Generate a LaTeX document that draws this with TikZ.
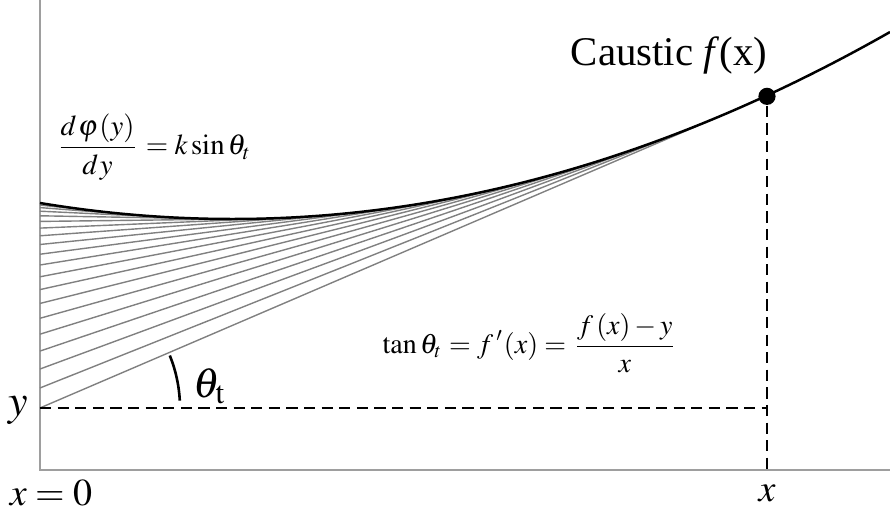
\documentclass[tikz,border=0pt]{standalone}
\usepackage{mathptmx}
\usepackage[no-math]{fontspec}
\setmainfont{Liberation Serif}
\begin{document}
\begin{tikzpicture}[x=0.25pt,y=-0.25pt,
  axisline/.style={draw=black!38, line width=0.65pt},
  rayline/.style={draw=black!50, line width=0.35pt},
  causticline/.style={draw=black, line width=0.62pt},
  guide/.style={draw=black, line width=0.72pt, dash pattern=on 2.8pt off 1.6pt},
  lbl/.style={inner sep=0pt},
  declare function={fY(\u)=267-16.64*\u+4.324*\u*\u;}
]
\useasboundingbox (0,0) rectangle (890,510);
% axes
\coordinate (O) at (40,470);
\coordinate (top) at (40,0);
\coordinate (right) at (890,470);
\draw[axisline] (top) -- (O) -- (right);
% rays tangent to the caustic
\foreach \k in {1,...,20}{
  \pgfmathsetmacro{\ut}{0.34425*\k}
  \pgfmathsetmacro{\yo}{470-(267-4.324*\ut*\ut)}
  \pgfmathsetmacro{\yt}{470-fY(\ut)}
  \pgfmathsetmacro{\xt}{40+100*\ut}
  \coordinate (ra\k) at (40,\yo);
  \coordinate (rb\k) at (\xt,\yt);
  \draw[rayline] (ra\k) -- (rb\k);
}
% caustic
\draw[causticline] plot[domain=0:8.5, samples=120, smooth] ({40+100*\x},{470-fY(\x)});
% point on caustic
\node[circle, fill=black, inner sep=0pt, minimum size=4.3pt] (dot) at (767,{470-fY(7.25)}) {};
\coordinate (yo) at (ra20);
\coordinate (corner) at (yo -| dot);
\coordinate (xfoot) at (dot |- O);
\draw[guide] (yo) -- (corner);
\draw[guide] (dot) -- (xfoot);
% angle arc
\draw[line width=0.65pt] (yo) ++(-3:140) arc[start angle=-3, end angle=-22, radius=140];
% labels
\node[lbl] (thlab) at (210,386) {\fontsize{10.5}{12}\selectfont$\theta_{\mathrm{t}}$};
\node[lbl] (ylab) at (18,410) {\fontsize{11}{13}\selectfont$y$};
\node[lbl, anchor=west] (x0lab) at (9,493) {\fontsize{9.5}{11}\selectfont$x=0$};
\node[lbl] (xlab) at (767,493) {\fontsize{9.5}{11}\selectfont$x$};
\node[lbl] (clab) at (669,55) {\fontsize{10.2}{12}\selectfont Caustic \textit{f}(x)};
\node[lbl, anchor=west] (eq1) at (55,147) {\fontsize{7.2}{8}\selectfont$\displaystyle\frac{d\mkern1mu\varphi\mkern1mu(y)}{d\mkern1mu y}=k\sin\theta_t$};
\node[lbl] (eq2) at (530,343) {\fontsize{7}{8}\selectfont$\displaystyle\tan\theta_t=f\,'(x)=\frac{f\,(x)-y}{x}$};
\end{tikzpicture}
\end{document}
